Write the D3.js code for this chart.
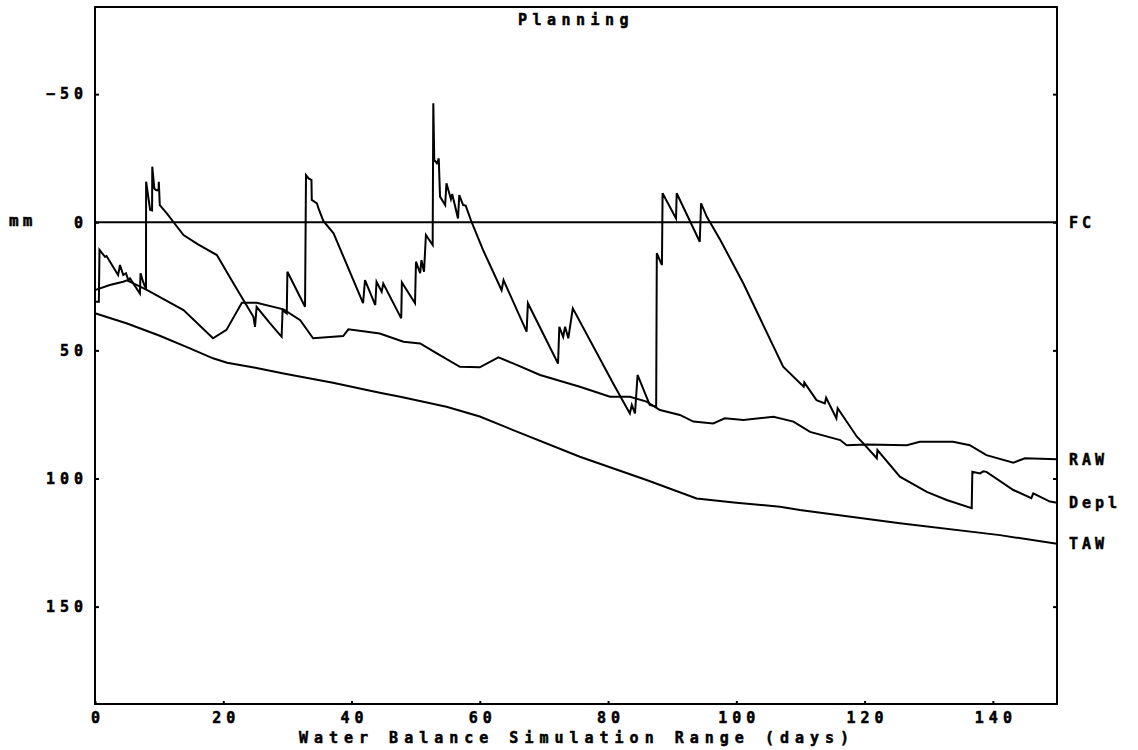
<!DOCTYPE html>
<html>
<head>
<meta charset="utf-8">
<script src="https://cdn.jsdelivr.net/npm/d3@7"></script>
<style>
  html, body { margin: 0; padding: 0; background: #fff; }
  svg { display: block; }
  .lbl { font-family: "DejaVu Sans Mono", monospace; font-weight: bold; fill: #000; stroke: #000; stroke-width: 0.5px; }
</style>
</head>
<body>
<svg id="chart" width="1138" height="750"></svg>
<script>
// Soil water balance: depletion of the root zone against FC, RAW and TAW (mm), per day

const xTicks = [0, 20, 40, 60, 80, 100, 120, 140];
const yTicks = [-50, 0, 50, 100, 150];

// Field capacity reference line
const fcDays = [0, 150];
const fcMm = [0, 0];

// Total available water
const tawDays = [0, 5, 10, 14.8, 18.4, 20.6, 25, 29.4, 37.1, 44.4, 47.6, 54.8, 60, 65.2, 75.6, 86, 93.8, 100, 106.8, 109.9, 125.5, 141.1, 150];
const tawMm   = [35.5, 39.5, 44.2, 49.2, 53.1, 54.8, 56.8, 59, 62.6, 66.5, 68.1, 72, 75.8, 81.1, 91.5, 100.6, 107.8, 109.5, 111, 112.3, 117.5, 122.1, 125.5];

// Readily available water
const rawDays = [0, 2.3, 4.4, 5, 8, 13.8, 18.4, 20.5, 22.9, 25.2, 29.4, 32, 34, 38.7, 39.5, 42.4, 44.4, 48.1, 50.7, 53.3, 56.9, 60, 62.9, 65.2, 69.4, 75.6, 80.3, 83.4, 86, 88.1, 91.2, 93.3, 96.4, 98.2, 101.1, 105.8, 108.9, 111.5, 116.2, 117.2, 120.3, 126.6, 128.6, 133.8, 136.4, 139, 143.2, 145, 150];
const rawMm   = [26.5, 24.5, 23.2, 22.7, 26.3, 34.3, 45.3, 42, 31.4, 31.4, 34, 38.2, 45.3, 44.4, 41.8, 42.7, 43.4, 46.6, 47.3, 51.2, 56.4, 56.6, 52.7, 55.1, 59.6, 64.2, 68.1, 68.1, 70, 73.3, 75.2, 77.8, 78.5, 76.5, 77.2, 75.9, 77.8, 81.8, 85, 87, 86.7, 87, 85.7, 85.7, 87, 90.9, 93.8, 92.1, 92.5];

// Root zone depletion
const deplDays = [0, 0.6, 0.7, 1.56, 1.8, 2.34, 3.6, 3.9, 4.4, 4.83, 5.2, 5.46, 7.0, 7.1, 7.5, 7.8, 7.95, 7.97, 8.6, 8.9, 8.93, 9.25, 9.5, 9.9, 9.95, 10.1, 11.2, 12.2, 13.8, 16, 19, 21.6, 24.7, 24.95, 25.2, 27.3, 29.1, 29.25, 29.9, 30, 32.75, 32.9, 33.3, 33.75, 33.8, 34.6, 34.85, 35.6, 37.2, 41.8, 42.1, 43.7, 43.9, 44.7, 44.95, 47.75, 47.85, 49.9, 50.05, 50.7, 50.9, 51.3, 51.6, 52.65, 52.75, 52.9, 53.3, 53.6, 53.8, 54.6, 54.8, 55.5, 55.7, 56.6, 56.8, 57.4, 57.8, 58.7, 60.5, 63.4, 63.7, 67.3, 67.5, 72.2, 72.4, 73, 73.3, 73.8, 74.5, 80.8, 83.4, 83.7, 84.2, 84.6, 86.5, 87.5, 87.6, 88.4, 88.5, 90.6, 90.7, 94.3, 94.5, 95.4, 97.5, 101.1, 107.3, 110.5, 110.6, 112.5, 113.8, 114.0, 115.6, 115.8, 118.8, 119.8, 121.9, 122, 125.5, 129.7, 132.8, 136.7, 136.8, 138, 138.5, 139, 143.2, 146, 146.3, 148.9, 150];
const deplMm   = [31, 31, 10.8, 13.5, 13.2, 15.4, 20.6, 16.7, 20.6, 19.9, 22.6, 21.9, 27.8, 19.9, 23.2, 25.2, 25.6, -15.8, -4.8, -4.6, -21.7, -13.2, -12.6, -12.4, -15.8, -6.7, -3.5, -0.2, 5, 8.5, 12.8, 23.9, 36.9, 40.8, 33, 39.5, 44.7, 34.3, 35.6, 19.3, 33, -18.4, -17.1, -16.5, -8.7, -7.4, -5.4, -0.5, 4.3, 31.6, 22.6, 32.3, 23.2, 27.1, 23.9, 37.5, 23.5, 31.6, 15.4, 19.9, 14.8, 19.3, 5, 8.9, -46.4, -24.3, -23, -24.9, -10, -6.7, -15.2, -9, -11, -1.5, -10.6, -6.7, -6.5, -0.2, 10.8, 26.5, 22.6, 42.7, 31.6, 55.1, 40.8, 44.7, 40.8, 45.3, 33.6, 62.9, 74.6, 71.3, 74.6, 59.6, 71.3, 72, 12.1, 16.7, -11.3, -1.5, -11.3, 7.6, -7.4, -2.1, 6.9, 23.9, 56.4, 64.2, 62.5, 69.4, 70.7, 68.5, 76.5, 72.6, 83.7, 86.3, 92.1, 88.9, 99.3, 105.2, 108.4, 111.6, 97.4, 98, 97.2, 97.4, 104.5, 107.7, 105.8, 109, 109.5];

const seriesLabels = ["FC", "RAW", "Depl", "TAW"];

const svg = d3.select("#chart");
const plotLeft = 95, plotRight = 1057, plotTop = 7, plotBottom = 704;

const x = d3.scaleLinear().domain([0, 150]).range([plotLeft, plotRight]);
const y = d3.scaleLinear().domain([-84, 188]).range([plotTop, plotBottom]);

const line = d3.line().x(d => x(d[0])).y(d => y(d[1]));
const zipS = (a, b) => a.map((v, i) => [v, b[i]]);

// plot frame
svg.append("rect")
  .attr("x", plotLeft).attr("y", plotTop)
  .attr("width", plotRight - plotLeft).attr("height", plotBottom - plotTop)
  .attr("fill", "none").attr("stroke", "#000").attr("stroke-width", 2);

// left axis: inward ticks and labels
const yAxisL = svg.append("g")
  .attr("transform", `translate(${plotLeft},0)`)
  .call(d3.axisLeft(y).tickValues(yTicks).tickSize(-4).tickPadding(12));
yAxisL.select(".domain").remove();
yAxisL.selectAll("line").attr("stroke", "#000").attr("stroke-width", 2);
yAxisL.selectAll("text")
  .attr("class", "lbl")
  .style("font-size", "15px")
  .style("letter-spacing", "5px")
  .attr("dx", "5px");

// right axis: inward ticks only
const yAxisR = svg.append("g")
  .attr("transform", `translate(${plotRight},0)`)
  .call(d3.axisRight(y).tickValues(yTicks).tickSize(-4).tickFormat(""));
yAxisR.select(".domain").remove();
yAxisR.selectAll("line").attr("stroke", "#000").attr("stroke-width", 2);

// bottom axis
const xAxis = svg.append("g")
  .attr("transform", `translate(0,${plotBottom})`)
  .call(d3.axisBottom(x).tickValues(xTicks).tickSize(-3).tickPadding(8));
xAxis.select(".domain").remove();
xAxis.selectAll("line").attr("stroke", "#000").attr("stroke-width", 2);
xAxis.selectAll("text")
  .attr("class", "lbl")
  .style("font-size", "15px")
  .style("letter-spacing", "5px")
  .attr("dx", "2.5px")
  .attr("dy", "0.71em");

// series lines
const series = [
  zipS(fcDays, fcMm),
  zipS(rawDays, rawMm),
  zipS(deplDays, deplMm),
  zipS(tawDays, tawMm)
];
svg.append("g").selectAll("path")
  .data(series)
  .join("path")
  .attr("d", line)
  .attr("fill", "none")
  .attr("stroke", "#000")
  .attr("stroke-width", 2)
  .attr("stroke-linejoin", "miter");

// end-of-line labels at the right
const lastVals = [fcMm[fcMm.length - 1], rawMm[rawMm.length - 1], deplMm[deplMm.length - 1], tawMm[tawMm.length - 1]];
svg.append("g").selectAll("text")
  .data(seriesLabels)
  .join("text")
  .attr("class", "lbl")
  .attr("x", 1069)
  .attr("y", (d, i) => y(lastVals[i]))
  .attr("dy", "0.36em")
  .style("font-size", "15px")
  .style("letter-spacing", "4px")
  .text(d => d);

// unit label
svg.append("text")
  .attr("class", "lbl")
  .attr("x", 9).attr("y", 226)
  .style("font-size", "16px")
  .style("letter-spacing", "4px")
  .text("mm");

// title
svg.append("text")
  .attr("class", "lbl")
  .attr("x", 576).attr("y", 25)
  .attr("text-anchor", "middle")
  .style("font-size", "15px")
  .style("letter-spacing", "5.5px")
  .text("Planning");

// x-axis title
svg.append("text")
  .attr("class", "lbl")
  .attr("x", 577).attr("y", 743)
  .attr("text-anchor", "middle")
  .style("font-size", "15px")
  .style("letter-spacing", "6px")
  .text("Water Balance Simulation Range (days)");
</script>
</body>
</html>
